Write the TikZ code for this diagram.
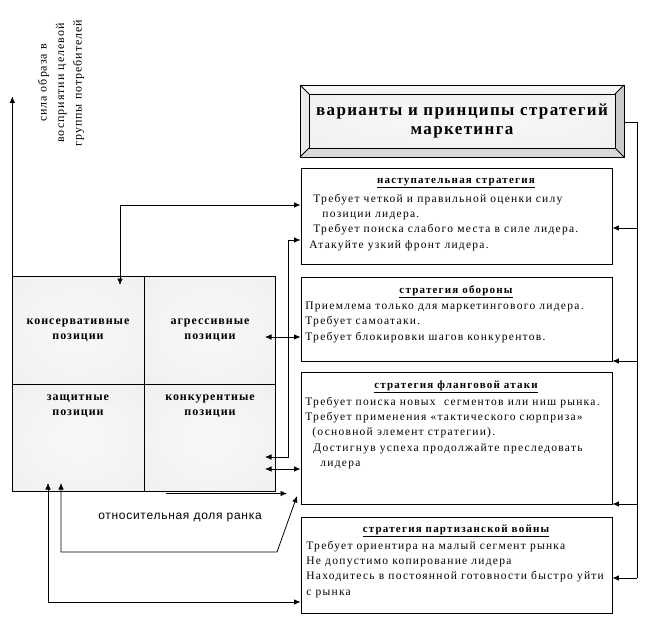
\documentclass[tikz,border=0pt]{standalone}
\usepackage{fontspec}
\setmainfont{Liberation Serif}
\newfontfamily\boldfont[LetterSpace=8]{Liberation Serif}
\newfontfamily\bodyfont[LetterSpace=11]{Liberation Serif}
\newfontfamily\labelfont[LetterSpace=6]{Liberation Sans}
\usetikzlibrary{arrows.meta,positioning}

\pgfdeclareradialshading{softcell}{\pgfpoint{0bp}{0bp}}{color(0bp)=(gray!5); color(30bp)=(gray!11); color(50bp)=(gray!20); color(72bp)=(gray!26)}

\tikzset{
  stratbox/.style={draw, fill=white, minimum width=311pt, inner sep=0pt},
  cellbox/.style={draw, inner sep=0pt, minimum width=131.5pt, minimum height=107.5pt, shading=softcell},
  celltext/.style={font=\boldfont\bfseries\fontsize{12}{15.5}\selectfont, align=center, inner sep=0pt},
  headtext/.style={font=\bodyfont\bfseries\fontsize{11}{14}\selectfont, inner sep=0pt},
  bodytext/.style={font=\bodyfont\fontsize{11.5}{15.3}\selectfont, align=left, anchor=north west, inner sep=0pt},
  arr/.style={-{Latex[length=6.5pt,width=5.5pt]}},
  dblarr/.style={{Latex[length=6.5pt,width=5.5pt]}-{Latex[length=6.5pt,width=5.5pt]}},
}

\begin{document}
\begin{tikzpicture}[x=1pt,y=1pt,yscale=-1,xscale=1,line width=0.8pt]
\useasboundingbox (0,0) rectangle (649,626);

%Title box with bevel
\fill[gray!7] (300,85) -- (624,85) -- (615,94) -- (309,94) -- cycle ;
\fill[gray!16] (300,85) -- (309,94) -- (309,148) -- (300,157) -- cycle ;
\fill[gray!42] (624,85) -- (624,157) -- (615,148) -- (615,94) -- cycle ;
\fill[gray!30] (300,157) -- (624,157) -- (615,148) -- (309,148) -- cycle ;
\shade[shading=softcell] (309,94) rectangle (615,148) ;
\draw (309,94) rectangle (615,148) ;
\draw (300,85) -- (309,94) (624,85) -- (615,94) (300,157) -- (309,148) (624,157) -- (615,148) ;
\node[draw, minimum width=324pt, minimum height=72pt, inner sep=0pt, align=center,
      font=\boldfont\bfseries\fontsize{17}{19}\selectfont] (title) at (462,121) {варианты и принципы стратегий\\маркетинга};

%Strategy boxes
\node[stratbox, minimum height=96pt] (attack) at (456.5,216) {};
\node[stratbox, minimum height=84pt] (defense) at (456.5,319) {};
\node[stratbox, minimum height=132pt] (flank) at (456.5,438) {};
\node[stratbox, minimum height=96pt] (guerrilla) at (456.5,565) {};

% Text Node
\node[headtext] (attackhead) at (456,183) {\underline{наступательная стратегия}};
\node[bodytext] (attacktxt) at (309,193.6) {\hspace*{4pt}Требует четкой и правильной оценки силу\\
  \hspace*{13pt}позиции лидера.\\
  \hspace*{4pt}Требует поиска слабого места в силе лидера.\\
  Атакуйте узкий фронт лидера.};
% Text Node
\node[headtext] (defensehead) at (456,292) {\underline{стратегия обороны}};
\node[bodytext] (defensetxt) at (305,301.6) {Приемлема только для маркетингового лидера.\\
  Требует самоатаки.\\
  Требует блокировки шагов конкурентов.};
% Text Node
\node[headtext] (flankhead) at (456,387) {\underline{стратегия фланговой атаки}};
\node[bodytext] (flanktxt) at (305,396.6) {Требует поиска новых \ сегментов или ниш рынка.\\
  Требует применения «тактического сюрприза»\\
  \hspace*{7pt}(основной элемент стратегии).\\
  \hspace*{8pt}Достигнув успеха продолжайте преследовать\\
  \hspace*{15pt}лидера};
% Text Node
\node[headtext] (guerrillahead) at (456,531) {\underline{стратегия партизанской войны}};
\node[bodytext] (guerrillatxt) at (306,540.6) {Требует ориентира на малый сегмент рынка\\
  Не допустимо копирование лидера\\
  Находитесь в постоянной готовности быстро уйти\\
  с рынка};

%Position grid
\node[cellbox] (consv) at (78.5,330.5) {};
\node[cellbox] (aggr) at (210,330.5) {};
\node[cellbox] (prot) at (78.5,438) {};
\node[cellbox] (comp) at (210,438) {};
\node[celltext] (consvtxt) at (78,330) {консервативные\\позиции};
\node[celltext] (aggrtxt) at (210,330) {агрессивные\\позиции};
\node[celltext] (prottxt) at (78,406) {защитные\\позиции};
\node[celltext] (comptxt) at (210,406) {конкурентные\\позиции};

%Axes
\draw[arr] (consv.north west) -- ++(0,-180) ;
\node[rotate=90, align=center, font=\boldfont\fontsize{12}{17.5}\selectfont] (ylabel) at (61,83) {сила образа в\\восприятии целевой\\группы потребителей};
\node[font=\labelfont\fontsize{12}{14}\selectfont] (xlabel) at (180,518) {относительная доля ранка};

%Right bus
\coordinate (bus) at (637,122) ;
\draw (title.east |- bus) -- (bus) -- (bus |- 0,578) ;
\draw[arr] (bus |- 0,228) -- (attack.east |- 0,228) ;
\draw[arr] (bus |- 0,361) -- (defense.east |- 0,361) ;
\draw[arr] (bus |- 0,504) -- (flank.east |- 0,504) ;
\draw[arr] (bus |- 0,578) -- (guerrilla.east |- 0,578) ;

%Grid to boxes
\coordinate (c1) at (120,285) ;
\coordinate (c2) at (265,457) ;
\coordinate (c3) at (265,337) ;
\coordinate (c4) at (265,469) ;
\coordinate (c5) at (166,493.5) ;
\coordinate (c5e) at (287,493.5) ;
\coordinate (c6) at (61,483) ;
\coordinate (c6e) at (297,496) ;
\coordinate (c7) at (48,483) ;
\draw[dblarr] (c1) |- (attack.west |- 0,205) ;
\draw[dblarr] (c2) -- (288,457) |- (attack.west |- 0,240) ;
\draw[dblarr] (c3) -- (defense.west |- c3) ;
\draw[dblarr] (c4) -- (flank.west |- c4) ;
\draw[arr] (c5) -- (c5e) ;
\draw[dblarr] (c6) |- (277,552) -- (c6e) ;
\draw[dblarr] (c7) |- (guerrilla.west |- 0,602) ;
\end{tikzpicture}
\end{document}
